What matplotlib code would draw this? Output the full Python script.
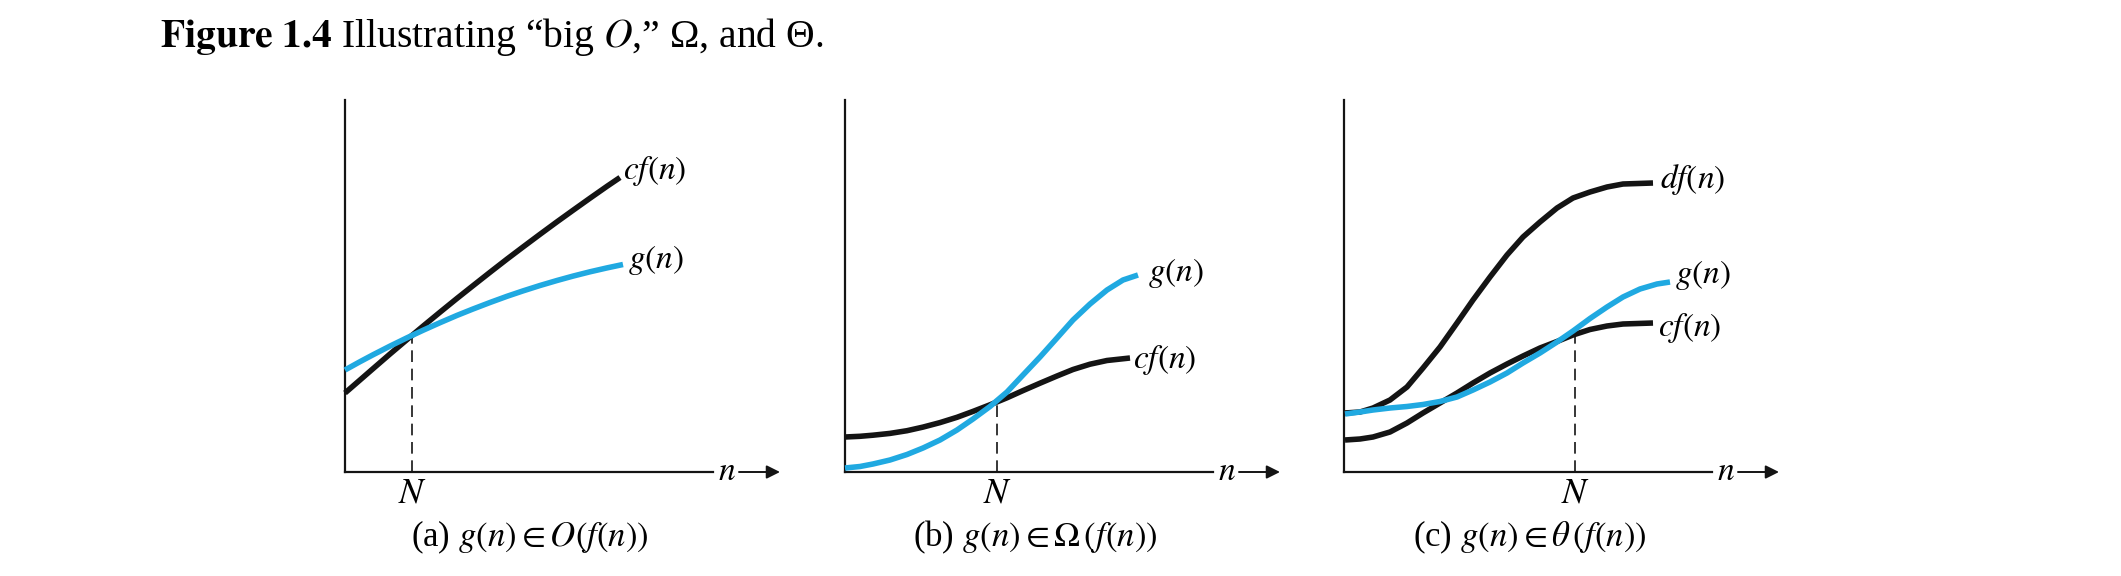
import matplotlib as mpl
mpl.use('Agg')
import matplotlib.pyplot as plt

mpl.rcParams['mathtext.fontset'] = 'stix'
mpl.rcParams['font.family'] = ['Liberation Serif', 'DejaVu Serif']

W, H = 2121, 576
BLACK = '#141414'
BLUE = '#20a9e1'

a_x_f = [0, 15, 28, 45, 62, 78, 95, 112, 128, 145, 162, 178, 195, 212, 228, 245, 262, 275]
a_f = [79, 92, 103.3, 118, 132.4, 145.8, 159.8, 173.6, 186.3, 199.7, 212.9, 225,
       237.7, 250.2, 261.7, 273.8, 285.7, 294.5]
a_x_g = [0, 15, 28, 45, 62, 78, 95, 112, 128, 145, 162, 178, 195, 212, 228, 245, 262, 278]
a_g = [102, 110.3, 117.2, 125.9, 134.2, 141.7, 149.3, 156.6, 163, 169.5, 175.7, 181.1,
       186.5, 191.5, 195.9, 200.2, 204.1, 207.5]

b_x_f = [0, 15, 28, 45, 62, 78, 95, 112, 128, 145, 162, 178, 195, 212, 228, 245, 262, 285]
b_f = [35, 35.7, 36.8, 38.6, 41.3, 44.9, 49.4, 54.7, 60.6, 67.2, 74.2, 81.4, 88.8, 96,
       102.5, 107.8, 111.5, 114]
b_x_g = [0, 15, 28, 45, 62, 78, 95, 112, 128, 145, 162, 178, 195, 212, 228, 245, 262, 278, 293]
b_g = [4, 5.5, 8, 12, 17.5, 24, 32, 42, 53, 65.5, 80, 97, 115, 134, 152, 168, 182, 192, 197]

c_x_d = [1, 16, 29, 46, 63, 79, 96, 113, 129, 146, 163, 179, 196, 213, 229, 246, 263, 279, 309]
c_d = [59, 60, 64, 72, 85, 104, 125, 149, 172, 195, 217, 235, 250, 264, 274, 280, 285, 288, 289]
c_x_f = [1, 16, 29, 46, 63, 79, 96, 113, 129, 146, 163, 179, 196, 213, 229, 246, 263, 279, 309]
c_f = [32, 33, 35, 40, 49, 59, 69, 79, 89, 99, 108, 116, 124, 130.5, 137, 142.5, 146, 148, 149]
c_x_g = [1, 16, 29, 46, 63, 79, 96, 113, 129, 146, 163, 179, 196, 213, 229, 246, 263, 279, 296, 313, 326]
c_g = [58, 60, 62, 64, 65.5, 67.5, 70.5, 75, 82, 90, 99, 109, 119, 130, 141, 153.5, 165, 175,
       183, 188, 190]

# N position and crossing height per panel
n_pos = [67, 152, 231]
n_height = [137, 72, 137]

captions = [r'(a) $g(n) \in O(f(n))$',
            r'(b) $g(n) \in \Omega\,(f(n))$',
            r'(c) $g(n) \in \theta\,(f(n))$']
caption_x = [185, 190, 186]

# panel origins in figure pixels
origins = [(345, 472), (845, 472), (1344, 472)]
AX_W, AX_H = 435, 372

fig = plt.figure(figsize=(W / 100, H / 100), dpi=100)

fig.text(160 / W, 1 - 47 / H,
         r'$\mathbf{Figure\ 1.4}$ Illustrating “big $\mathit{O}$,” Ω, and Θ.',
         fontsize=28.5, va='baseline', ha='left')

curves = [
    [(a_x_f, a_f, BLACK), (a_x_g, a_g, BLUE)],
    [(b_x_f, b_f, BLACK), (b_x_g, b_g, BLUE)],
    [(c_x_d, c_d, BLACK), (c_x_f, c_f, BLACK), (c_x_g, c_g, BLUE)],
]
labels = [
    [(278, 301, r'$cf(n)$'), (283, 212, r'$g(n)$')],
    [(303, 199, r'$g(n)$'), (288, 112, r'$cf(n)$')],
    [(316, 292, r'$df(n)$'), (331, 197, r'$g(n)$'), (314, 144, r'$cf(n)$')],
]

for i, (ox, oy) in enumerate(origins):
    ax = fig.add_axes([ox / W, (H - oy) / H, AX_W / W, AX_H / H])
    ax.set_xlim(0, AX_W)
    ax.set_ylim(0, AX_H)
    ax.axis('off')

    # axes
    ax.plot([0, 0], [0, AX_H], color=BLACK, lw=1.6, clip_on=False)
    ax.plot([0, 368], [0, 0], color=BLACK, lw=1.6, clip_on=False)
    ax.text(382, 0, r'$n$', fontsize=24, ha='center', va='center')
    ax.annotate('', xy=(435, 0), xytext=(394, 0),
                arrowprops=dict(arrowstyle='-|>', color=BLACK, lw=1.4,
                                mutation_scale=20, shrinkA=0, shrinkB=0))

    # dashed N line
    ax.plot([n_pos[i], n_pos[i]], [0, n_height[i]], color=BLACK, lw=1.2,
            dashes=(7, 4), clip_on=False)
    ax.text(n_pos[i], -22, r'$N$', fontsize=26, ha='center', va='center')

    for xs, ys, col in curves[i]:
        ax.plot(xs, ys, color=col, lw=4, solid_capstyle='butt',
                solid_joinstyle='round', clip_on=False)
    for lx, ly, s in labels[i]:
        ax.text(lx, ly, s, fontsize=24, ha='left', va='center')

    ax.text(caption_x[i], -65, captions[i], fontsize=25, ha='center',
            va='center')

fig.savefig('out.png', dpi=100)
